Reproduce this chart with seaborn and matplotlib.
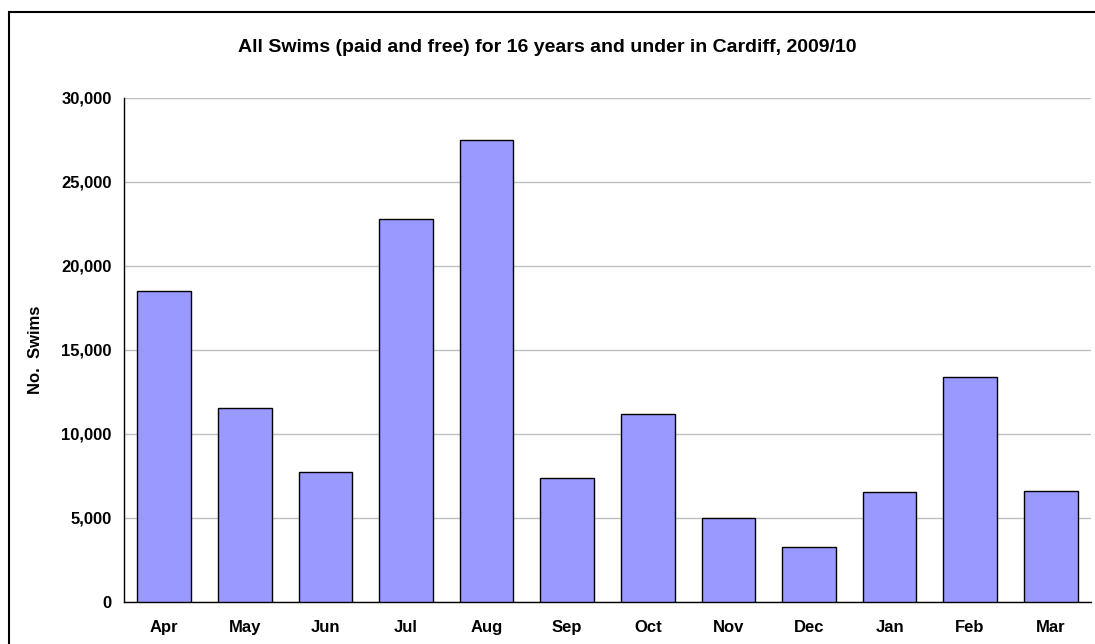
import matplotlib
matplotlib.use("Agg")
import matplotlib.pyplot as plt
import matplotlib.ticker as mticker
from matplotlib.patches import Rectangle
import seaborn as sns
import pandas as pd

months = ["Apr", "May", "Jun", "Jul", "Aug", "Sep", "Oct", "Nov", "Dec", "Jan", "Feb", "Mar"]
swims = [18500, 11550, 7750, 22780, 27520, 7340, 11190, 4990, 3250, 6560, 13390, 6620]

title = "All Swims (paid and free) for 16 years and under in Cardiff, 2009/10"
y_label = "No.  Swims"

sns.set_style("white")
plt.rcParams["font.family"] = ["Liberation Sans", "DejaVu Sans"]
plt.rcParams["font.weight"] = "bold"
plt.rcParams["text.color"] = "black"
plt.rcParams["xtick.color"] = "black"
plt.rcParams["ytick.color"] = "black"

df = pd.DataFrame({"month": months, "swims": swims})

W, H = 1095, 644
fig = plt.figure(figsize=(W / 100, H / 100), dpi=100)
ax = fig.add_axes([124 / W, (H - 601.7) / H, (1091 - 124) / W, (601.7 - 98) / H])

sns.barplot(data=df, x="month", y="swims", color="#9999FF", saturation=1,
            edgecolor="black", linewidth=1.0, width=0.667, ax=ax, zorder=3)

ax.set_xlim(-0.5, len(months) - 0.5)
ax.set_ylim(0, 30000)
ax.yaxis.set_major_locator(mticker.MultipleLocator(5000))
ax.yaxis.set_major_formatter(mticker.FuncFormatter(lambda v, p: f"{int(v):,}"))
ax.grid(axis="y", color="#c0c0c0", linewidth=1.0, zorder=0)
ax.set_axisbelow(True)

# category labels centred, ticks on category boundaries
ax.set_xticks(range(len(months)))
ax.set_xticklabels(months, fontsize=12, fontweight="bold", color="black")
ax.tick_params(axis="x", which="major", length=0, pad=13)
ax.set_xticks([i - 0.5 for i in range(len(months) + 1)], minor=True)
ax.tick_params(axis="x", which="minor", length=5, width=1, color="black", direction="out")
ax.tick_params(axis="y", length=5, width=1, color="black", direction="out", labelsize=12, pad=4)
for lab in ax.get_yticklabels():
    lab.set_fontweight("bold")
    lab.set_color("black")

for side in ["top", "right"]:
    ax.spines[side].set_visible(False)
for side in ["left", "bottom"]:
    ax.spines[side].set_color("black")
    ax.spines[side].set_linewidth(1.0)

ax.set_xlabel("")
ax.set_ylabel("")
fig.text(35 / W, 1 - 350 / H, y_label, rotation=90, ha="center", va="center",
         fontsize=12, fontweight="bold", color="black")
fig.text((219 + 876) / 2 / W, 1 - 47 / H, title, ha="center", va="center",
         fontsize=14, fontweight="bold", color="black")

# chart area border (cropped on right and bottom in the source)
fig.patches.append(Rectangle((9 / W, -0.1), 1.2, 1 - 12 / H + 0.1, transform=fig.transFigure,
                             fill=False, edgecolor="black", linewidth=1.5))

fig.savefig("out.png", dpi=100)
